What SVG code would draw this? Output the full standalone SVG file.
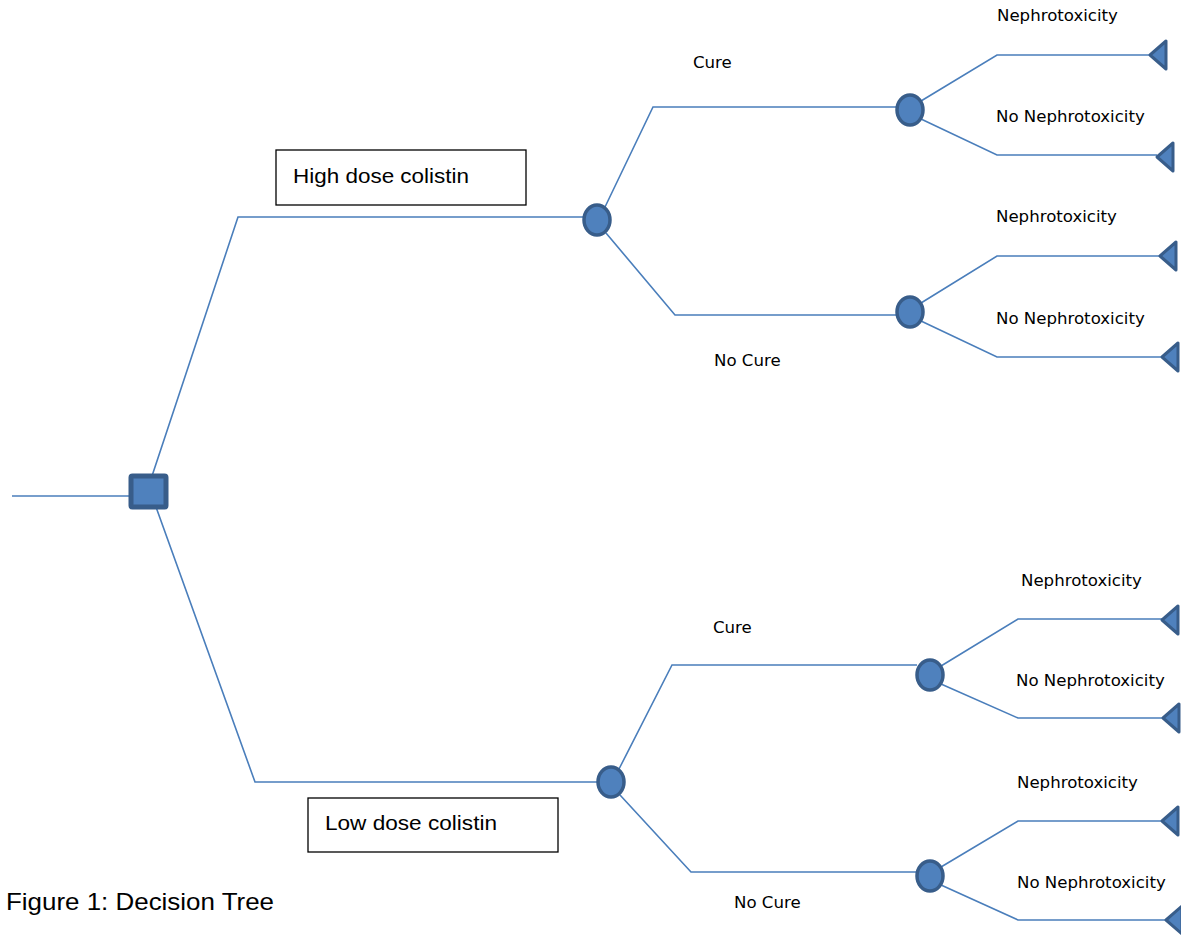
<svg xmlns="http://www.w3.org/2000/svg" xmlns:xlink="http://www.w3.org/1999/xlink" width="1181" height="936" viewBox="0 0 1181 936">
<style>
.edge{fill:none;stroke:#4a7ebb;stroke-width:1.6}
.node{fill:#4f81bd;stroke:#385d8a;stroke-width:3.5}
.dec{fill:#4f81bd;stroke:#385d8a;stroke-width:5}
.term{fill:#4f81bd;stroke:#385d8a;stroke-width:3;stroke-linejoin:round}
.lbl{font-family:"DejaVu Sans",Verdana,sans-serif;font-size:16.6px;fill:#000}
.box{fill:#fff;stroke:#000;stroke-width:1.3}
.btxt{font-family:"Liberation Sans",Arial,sans-serif;font-size:21px;fill:#000}
.cap{font-family:"Liberation Sans",Arial,sans-serif;font-size:24px;fill:#000}
</style>
<defs>
<path id="tri" d="M0,0 L16,-14 L16,14 Z"/>
</defs>
<rect width="1181" height="936" fill="#fff"/>
<g id="connectors">
<path class="edge" d="M12,496 H131"/>
<path class="edge" d="M152,476 L238,217 H584"/>
<path class="edge" d="M156,507 L255,782 H598"/>
<path class="edge" d="M605,207 L653,107 H897"/>
<path class="edge" d="M606,233 L675,315 H897"/>
<path class="edge" d="M921,101 L997,55 H1150"/>
<path class="edge" d="M921,119 L997,155 H1157"/>
<path class="edge" d="M921,303 L997,256 H1160"/>
<path class="edge" d="M921,321 L997,357 H1162"/>
<path class="edge" d="M619,769 L672,665 H917"/>
<path class="edge" d="M620,795 L691,872 H917"/>
<path class="edge" d="M941,666 L1018,619 H1162"/>
<path class="edge" d="M941,684 L1018,718 H1163"/>
<path class="edge" d="M941,867 L1018,821 H1162"/>
<path class="edge" d="M941,885 L1018,920 H1166"/>
</g>
<g id="decision"><rect class="dec" x="131" y="476" width="35" height="31" rx="1.5"/></g>
<g id="chance1"><ellipse class="node" cx="597" cy="220" rx="13" ry="15"/></g>
<g id="chance2"><ellipse class="node" cx="910" cy="110" rx="13" ry="15"/></g>
<g id="chance3"><ellipse class="node" cx="910" cy="312" rx="13" ry="15"/></g>
<g id="chance4"><ellipse class="node" cx="611" cy="782" rx="13" ry="15"/></g>
<g id="chance5"><ellipse class="node" cx="930" cy="675" rx="13" ry="15"/></g>
<g id="chance6"><ellipse class="node" cx="930" cy="876" rx="13" ry="15"/></g>
<g id="term1"><use xlink:href="#tri" class="term" x="1150" y="55"/></g>
<g id="term2"><use xlink:href="#tri" class="term" x="1157" y="157"/></g>
<g id="term3"><use xlink:href="#tri" class="term" x="1160" y="256"/></g>
<g id="term4"><use xlink:href="#tri" class="term" x="1162" y="357"/></g>
<g id="term5"><use xlink:href="#tri" class="term" x="1162" y="620"/></g>
<g id="term6"><use xlink:href="#tri" class="term" x="1163" y="718"/></g>
<g id="term7"><use xlink:href="#tri" class="term" x="1162" y="821"/></g>
<g id="term8"><use xlink:href="#tri" class="term" x="1166" y="920"/></g>
<g id="highbox"><rect class="box" x="276" y="150" width="250" height="55"/><text class="btxt" x="293" y="183" textLength="176" lengthAdjust="spacingAndGlyphs">High dose colistin</text></g>
<g id="lowbox"><rect class="box" x="308" y="798" width="250" height="54"/><text class="btxt" x="325" y="830" textLength="172" lengthAdjust="spacingAndGlyphs">Low dose colistin</text></g>
<g id="labels">
<text class="lbl" x="693" y="68">Cure</text>
<text class="lbl" x="714" y="366">No Cure</text>
<text class="lbl" x="997" y="21">Nephrotoxicity</text>
<text class="lbl" x="996" y="122">No Nephrotoxicity</text>
<text class="lbl" x="996" y="222">Nephrotoxicity</text>
<text class="lbl" x="996" y="324">No Nephrotoxicity</text>
<text class="lbl" x="713" y="633">Cure</text>
<text class="lbl" x="1021" y="586">Nephrotoxicity</text>
<text class="lbl" x="1016" y="686">No Nephrotoxicity</text>
<text class="lbl" x="1017" y="788">Nephrotoxicity</text>
<text class="lbl" x="1017" y="888">No Nephrotoxicity</text>
<text class="lbl" x="734" y="908">No Cure</text>
</g>
<text class="cap" x="6" y="910" textLength="268" lengthAdjust="spacingAndGlyphs">Figure 1: Decision Tree</text>
</svg>
